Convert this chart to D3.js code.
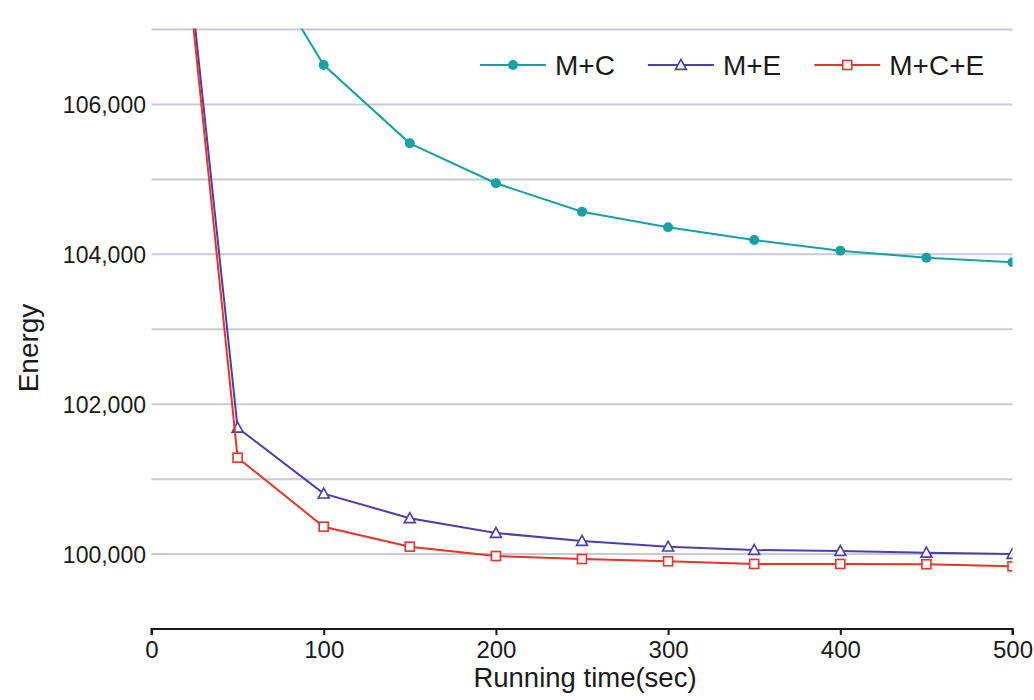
<!DOCTYPE html>
<html>
<head>
<meta charset="utf-8">
<script src="https://cdn.jsdelivr.net/npm/d3@7"></script>
<style>
  html, body { margin: 0; padding: 0; background: #fff; }
  svg { display: block; font-family: "Liberation Sans", Arial, sans-serif; }
</style>
</head>
<body>
<svg id="chart" width="1034" height="700"></svg>
<script>
// ---- data ----
const timesMC   = [50, 100, 150, 200, 250, 300, 350, 400, 450, 500];
const valuesMC  = [108420, 106526, 105481, 104948, 104569, 104361, 104191, 104048, 103955, 103893];
const timesME   = [0, 50, 100, 150, 200, 250, 300, 350, 400, 450, 500];
const valuesME  = [112530, 101686, 100806, 100478, 100281, 100175, 100099, 100054, 100041, 100018, 100001];
const timesMCE  = [0, 50, 100, 150, 200, 250, 300, 350, 400, 450, 500];
const valuesMCE = [112490, 101286, 100365, 100099, 99974, 99934, 99904, 99868, 99868, 99864, 99837];
const seriesNames = ["M+C", "M+E", "M+C+E"];
const xTicks = [0, 100, 200, 300, 400, 500];
const yTickLabels = [100000, 102000, 104000, 106000];
const yGrid = [100000, 101000, 102000, 103000, 104000, 105000, 106000, 107000];
const xTitle = "Running time(sec)";
const yTitle = "Energy";

const series = [
  { name: seriesNames[0], t: timesMC,  v: valuesMC,  color: "#16a2a4", marker: "circle" },
  { name: seriesNames[1], t: timesME,  v: valuesME,  color: "#4a3eb3", marker: "triangle" },
  { name: seriesNames[2], t: timesMCE, v: valuesMCE, color: "#e8342b", marker: "square" }
];

// ---- layout ----
const svg = d3.select("#chart");
const x = d3.scaleLinear().domain([0, 500]).range([151.5, 1012.5]);
const y = d3.scaleLinear().domain([99000, 107000]).range([629, 29.5]);

// gridlines
svg.append("g").selectAll("line").data(yGrid).join("line")
  .attr("x1", x(0)).attr("x2", x(500))
  .attr("y1", d => y(d)).attr("y2", d => y(d))
  .attr("stroke", "#cacad6").attr("stroke-width", 2);

// y tick labels
svg.append("g").selectAll("text").data(yTickLabels).join("text")
  .attr("x", 146).attr("y", d => y(d) + 8.5)
  .attr("text-anchor", "end")
  .attr("font-size", 23).attr("fill", "#1a1a1a")
  .text(d => d3.format(",")(d));

// x axis
const xAxis = d3.axisBottom(x).tickValues(xTicks).tickSize(6).tickPadding(5).tickFormat(d3.format("d"));
const gx = svg.append("g").attr("transform", `translate(0,${y(99000)})`).call(xAxis);
gx.select(".domain").attr("stroke", "#1a1a1a").attr("stroke-width", 2).attr("d", `M${x(0)},6V0H${x(500)}V6`);
gx.selectAll(".tick line").attr("stroke", "#1a1a1a").attr("stroke-width", 2);
gx.selectAll(".tick text").attr("font-size", 24).attr("fill", "#1a1a1a")
  .attr("font-family", "Liberation Sans, Arial, sans-serif").attr("dy", "0.76em");

// axis titles
svg.append("text").attr("x", 585).attr("y", 687).attr("text-anchor", "middle")
  .attr("font-size", 27.5).attr("fill", "#1a1a1a").text(xTitle);
svg.append("text").attr("transform", "translate(38,348) rotate(-90)").attr("text-anchor", "middle")
  .attr("font-size", 28).attr("fill", "#1a1a1a").text(yTitle);

// clip
svg.append("clipPath").attr("id", "plotclip").append("rect")
  .attr("x", x(0)).attr("y", y(107000) - 1).attr("width", x(500) - x(0)).attr("height", y(99000) - y(107000) + 1);

function drawMarker(g, type, color, cx, cy) {
  if (type === "circle") {
    g.append("circle").attr("cx", cx).attr("cy", cy).attr("r", 5).attr("fill", color);
  } else if (type === "triangle") {
    const s = 5.5;
    g.append("path").attr("d", `M${cx},${cy - s}L${cx + s},${cy + s * 0.8}L${cx - s},${cy + s * 0.8}Z`)
      .attr("fill", "#fff").attr("stroke", color).attr("stroke-width", 1.6);
  } else {
    const s = 4.5;
    g.append("rect").attr("x", cx - s).attr("y", cy - s).attr("width", 2 * s).attr("height", 2 * s)
      .attr("fill", "#fff").attr("stroke", color).attr("stroke-width", 1.6);
  }
}

const plot = svg.append("g").attr("clip-path", "url(#plotclip)");
const line = d3.line().x(d => x(d[0])).y(d => y(d[1]));
series.forEach(s => {
  const pts = s.t.map((t, i) => [t, s.v[i]]);
  const g = plot.append("g");
  g.append("path").datum(pts).attr("d", line).attr("fill", "none")
    .attr("stroke", s.color).attr("stroke-width", 2);
  pts.forEach(p => drawMarker(g, s.marker, s.color, x(p[0]), y(p[1])));
});

// legend
const leg = svg.append("g");
let lx = 480;
const ly = 65;
series.forEach(s => {
  const g = leg.append("g");
  g.append("line").attr("x1", lx).attr("x2", lx + 66).attr("y1", ly).attr("y2", ly)
    .attr("stroke", s.color).attr("stroke-width", 2);
  drawMarker(g, s.marker, s.color, lx + 33, ly);
  const t = g.append("text").attr("x", lx + 75).attr("y", ly + 10)
    .attr("font-size", 28).attr("fill", "#1a1a1a").text(s.name);
  lx = lx + 75 + t.node().getComputedTextLength() + 33;
});
</script>
</body>
</html>
